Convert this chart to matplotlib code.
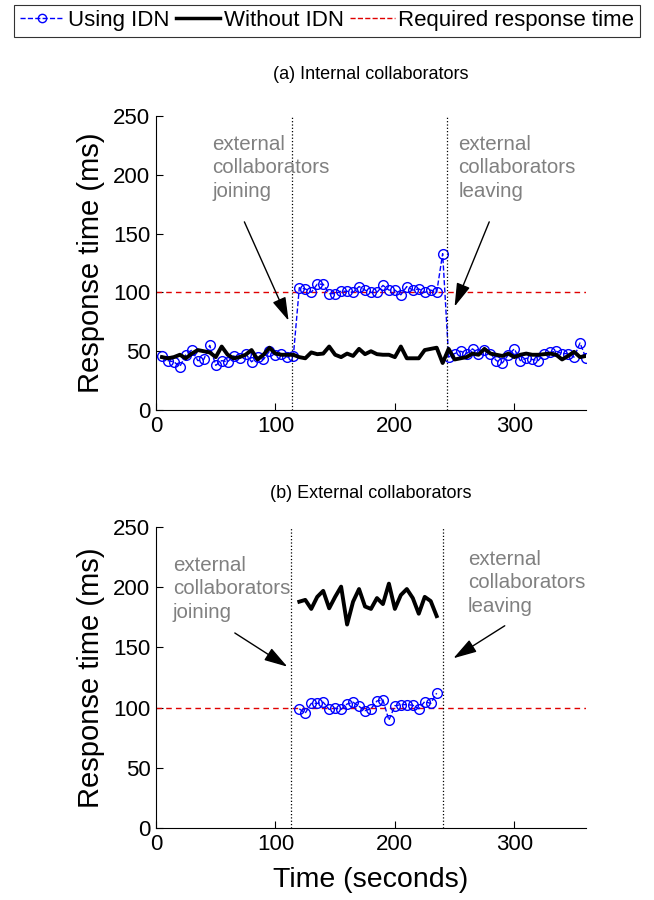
import numpy as np
import matplotlib.pyplot as plt

plt.rcParams['font.family'] = ['Liberation Sans', 'DejaVu Sans']

# (a) internal collaborators
t_a = np.arange(5, 365, 5)
idn_a = [46, 42, 41, 37, 47, 51, 42, 43, 55, 38, 42, 41, 46, 44, 48, 41, 45, 43, 50, 47, 48, 45, 46,
         104, 103, 100, 107, 107, 99, 99, 101, 101, 100, 105, 102, 100, 100, 106, 102, 102, 98, 105,
         102, 103, 100, 102, 100, 133,
         45, 48, 50, 48, 52, 48, 51, 48, 42, 40, 47, 52, 42, 44, 43, 42, 48, 49, 50, 48, 48, 45, 57, 44]
no_idn_a = [45, 44, 45, 47, 44, 48, 51, 50, 49, 45, 54, 47, 44, 45, 47, 51, 43, 47, 53, 48, 47, 47, 47,
            45, 44, 49, 47.5, 48, 54, 47, 45, 48, 46, 52, 47.5, 50, 47.5, 47, 47, 45, 54, 44, 44, 44,
            51, 52, 53, 40, 52,
            43, 44, 45, 48, 47, 52, 48, 47, 46, 48, 45, 47, 48, 47, 47, 47.5, 48, 47, 43, 46, 49.5, 45, 46]

# (b) external collaborators
t_b = np.arange(120, 240, 5)
idn_b = [99, 95.5, 103.5, 103.5, 104.5, 98.5, 99.5, 98.5, 103, 104.5, 101, 97.5, 99, 105.5, 106.5,
         89.5, 101.5, 102.5, 102.5, 102, 99, 105, 103.5, 112]
no_idn_b = [188, 189.5, 182, 192, 197, 182.5, 192, 200.5, 169, 188, 198.5, 184, 182, 191, 186, 203,
            182, 193.5, 198.5, 191, 178, 192, 188.5, 176]

required = 100
join_a, leave_a = 114, 244
join_b, leave_b = 113, 240

fig = plt.figure(figsize=(6.54, 9), dpi=100)
ax1 = fig.add_axes([0.2385, 0.5444, 0.6575, 0.3267])
ax2 = fig.add_axes([0.2385, 0.08, 0.6575, 0.3344])

gray = '#808080'
arrow = dict(arrowstyle='-|>,head_length=0.8,head_width=0.24', color='black', lw=1,
             mutation_scale=18, shrinkA=0, shrinkB=0)
note = dict(color=gray, fontsize=14.8, va='top', linespacing=1.3)

for ax in (ax1, ax2):
    ax.axhline(required, color='#e00000', ls='--', lw=1, dashes=(4, 3))
    ax.set_xlim(0, 360)
    ax.set_ylim(0, 250)
    ax.set_xticks([0, 100, 200, 300])
    ax.set_yticks(np.arange(0, 251, 50))
    ax.tick_params(direction='in', labelsize=16, length=5, pad=4)
    ax.spines['top'].set_visible(False)
    ax.spines['right'].set_visible(False)
    ax.set_ylabel('Response time (ms)', fontsize=21, labelpad=6)

# top
ax1.plot(t_a, idn_a, color='blue', ls='--', lw=1, marker='o', mfc='none', ms=7, mew=1)
ax1.plot(t_a, no_idn_a, color='black', lw=2.8)
ax1.axvline(join_a, color='black', ls=':', lw=0.9)
ax1.axvline(leave_a, color='black', ls=':', lw=0.9)
ax1.text(47, 234, 'external\ncollaborators\njoining', **note)
ax1.text(253, 234, 'external\ncollaborators\nleaving', **note)
ax1.annotate('', xy=(111, 76), xytext=(74, 160), arrowprops=arrow)
ax1.annotate('', xy=(250, 88), xytext=(279, 160), arrowprops=arrow)

# bottom
ax2.plot(t_b, idn_b, color='blue', ls='--', lw=1, marker='o', mfc='none', ms=7, mew=1)
ax2.plot(t_b, no_idn_b, color='black', lw=2.8)
ax2.axvline(join_b, color='black', ls=':', lw=0.9)
ax2.axvline(leave_b, color='black', ls=':', lw=0.9)
ax2.text(14, 226, 'external\ncollaborators\njoining', **note)
ax2.text(261, 231, 'external\ncollaborators\nleaving', **note)
ax2.annotate('', xy=(110, 134), xytext=(66, 162), arrowprops=arrow)
ax2.annotate('', xy=(249, 141), xytext=(292, 168), arrowprops=arrow)
ax2.set_xlabel('Time (seconds)', fontsize=20.5, labelpad=9)

fig.text(0.567, 0.917, '(a) Internal collaborators', ha='center', va='center', fontsize=13)
fig.text(0.567, 0.452, '(b) External collaborators', ha='center', va='center', fontsize=13)

h1, = ax1.plot([], [], color='blue', ls='--', lw=1, marker='o', mfc='none', ms=6, mew=1)
h2, = ax1.plot([], [], color='black', lw=2.5)
h3, = ax1.plot([], [], color='#e00000', ls='--', lw=1)
leg = fig.legend([h1, h2, h3], ['Using IDN', 'Without IDN', 'Required response time'],
                 loc='upper center', bbox_to_anchor=(0.5, 0.995), ncol=3, fontsize=16,
                 frameon=True, fancybox=False, edgecolor='black', handlelength=2.0,
                 handletextpad=0.15, columnspacing=0.3, borderpad=0.25, borderaxespad=0)
leg.get_frame().set_linewidth(0.8)

fig.savefig('out.png', dpi=100)
